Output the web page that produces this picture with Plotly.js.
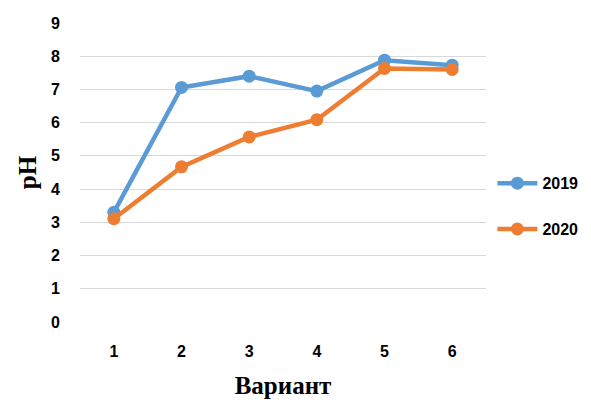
<!DOCTYPE html>
<html><head><meta charset="utf-8">
<script src="https://cdn.plot.ly/plotly-3.0.1.min.js"></script>
<style>body{margin:0;background:#fff}#c{width:591px;height:403px}</style>
</head><body><div id="c"></div>
<script>
const categories = ['1','2','3','4','5','6'];
const seriesNames = ['2019','2020'];
const values2019 = [3.30, 7.06, 7.40, 6.95, 7.88, 7.73];
const values2020 = [3.11, 4.67, 5.57, 6.09, 7.63, 7.60];
const yTicks = [0,1,2,3,4,5,6,7,8,9];
const colors = ['#5B9BD5', '#ED7D31'];

const traces = [values2019, values2020].map((v, i) => ({
  x: categories, y: v, name: seriesNames[i], type: 'scatter', mode: 'lines+markers',
  legendgroup: 'g' + i,
  line: {color: colors[i], width: 4.5},
  marker: {color: colors[i], size: 13}
}));

const tf = {size: 16, family: 'Liberation Sans', weight: 'bold', color: '#000'};
const layout = {
  width: 591, height: 403,
  margin: {l: 60, r: 105, t: 23, b: 81, autoexpand: false},
  paper_bgcolor: '#fff', plot_bgcolor: '#fff',
  font: {family: 'Liberation Sans, sans-serif', color: '#000'},
  xaxis: {
    type: 'category', range: [-0.5, 5.5], domain: [0.047, 1],
    showgrid: false, zeroline: false, showline: false, ticks: '',
    tickfont: tf,
    ticklabelstandoff: 18,
    title: {text: 'Вариант', font: {family: 'Liberation Serif', size: 25, weight: 'bold'}, standoff: 17}
  },
  yaxis: {
    range: [0, 9], tickvals: yTicks, anchor: 'free', position: 0,
    showgrid: true, gridcolor: '#D9D9D9', gridwidth: 1.3,
    zeroline: false, showline: false, ticks: '',
    tickfont: tf,
    title: {text: 'pH', font: {family: 'Liberation Serif', size: 25, weight: 'bold'}, standoff: 6}
  },
  showlegend: true,
  legend: {
    x: 1.015, xanchor: 'left', y: 0.387, yanchor: 'middle',
    font: tf,
    traceorder: 'grouped', tracegroupgap: 22, itemwidth: 40
  }
};
Plotly.newPlot('c', traces, layout, {displayModeBar: false});
</script></body></html>
